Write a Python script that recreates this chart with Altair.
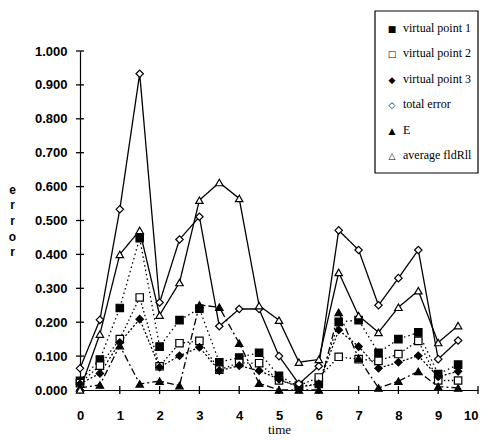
import altair as alt
import pandas as pd

time = [0, 0.5, 1, 1.5, 2, 2.5, 3, 3.5, 4, 4.5, 5, 5.5, 6, 6.5, 7, 7.5, 8, 8.5, 9, 9.5]

vp1 = [0.027, 0.090, 0.242, 0.448, 0.128, 0.206, 0.240, 0.082, 0.096, 0.110,
       0.042, 0.010, 0.018, 0.201, 0.206, 0.110, 0.150, 0.170, 0.047, 0.075]
vp2 = [0.020, 0.072, 0.150, 0.273, 0.070, 0.138, 0.145, 0.060, 0.080, 0.079,
       0.028, 0.013, 0.037, 0.098, 0.091, 0.086, 0.106, 0.145, 0.028, 0.028]
vp3 = [0.018, 0.049, 0.140, 0.209, 0.067, 0.101, 0.126, 0.057, 0.072, 0.057,
       0.032, 0.008, 0.018, 0.177, 0.128, 0.064, 0.082, 0.101, 0.039, 0.055]
total = [0.064, 0.207, 0.533, 0.933, 0.258, 0.444, 0.511, 0.188, 0.239, 0.239,
         0.100, 0.018, 0.070, 0.471, 0.413, 0.250, 0.330, 0.413, 0.091, 0.146]
E = [0.006, 0.015, 0.131, 0.018, 0.026, 0.013, 0.251, 0.244, 0.138, 0.020,
     0.000, 0.000, 0.000, 0.229, 0.094, 0.006, 0.026, 0.055, 0.010, 0.006]
avg = [0.000, 0.165, 0.400, 0.471, 0.221, 0.317, 0.560, 0.612, 0.565, 0.249,
       0.206, 0.082, 0.090, 0.347, 0.219, 0.170, 0.244, 0.293, 0.140, 0.190]

series_names = ["virtual point 1", "virtual point 2", "virtual point 3",
                "total error", "E", "average fldRll"]
series_values = [vp1, vp2, vp3, total, E, avg]
legend_glyphs = ["\u25A0", "\u25A1", "\u25C6", "\u25C7", "\u25B2", "\u25B3"]

shapes = ["square", "square", "diamond", "diamond", "triangle-up", "triangle-up"]
fills = ["black", "white", "black", "white", "black", "white"]
dashes = [[1.5, 3], [1.5, 2.5], [2, 2], [1, 0], [7, 3, 2, 3], [1, 0]]
widths = [1.3, 1.3, 1.3, 1.6, 1.3, 1.6]

x_ticks = [0, 1, 2, 3, 4, 5, 6, 7, 8, 9, 10]
y_ticks = [0.0, 0.1, 0.2, 0.3, 0.4, 0.5, 0.6, 0.7, 0.8, 0.9, 1.0]

rows = []
for name, vals in zip(series_names, series_values):
    for t, v in zip(time, vals):
        rows.append({"time": t, "error": v, "series": name})
df = pd.DataFrame(rows)

xt_df = pd.DataFrame({"time": x_ticks})
yt_df = pd.DataFrame({"error": y_ticks})

W, H = 398, 339

x_scale = alt.Scale(domain=[0, 10], nice=False, zero=False)
y_scale = alt.Scale(domain=[0, 1], nice=False, zero=False)

tick_font = "Liberation Sans"

x_axis = alt.Axis(values=x_ticks, format="d", title="time", grid=False,
                  ticks=False, labelPadding=19, labelOverlap=False,
                  labelFlush=False,
                  labelAlign=alt.ExprRef(expr="datum.value == 10 ? 'right' : 'center'"),
                  titleBaseline="alphabetic", titleY=43)
y_axis = alt.Axis(values=y_ticks, format=".3f", title=["e", "r", "r", "o", "r"],
                  titleAngle=0, grid=False, ticks=False, labelPadding=13,
                  labelOverlap=False, labelFlush=False,
                  titleFont=tick_font, titleFontSize=12, titleFontWeight="bold",
                  titleAlign="center", titleBaseline="top", titleX=-68,
                  titleY=133, titleLineHeight=15.7)

X = alt.X("time:Q", scale=x_scale, axis=x_axis)
Y = alt.Y("error:Q", scale=y_scale, axis=y_axis)

lines = alt.Chart(df).mark_line(color="black").encode(
    x=X, y=Y,
    detail="series:N",
    strokeDash=alt.StrokeDash("series:N", scale=alt.Scale(domain=series_names, range=dashes), legend=None),
    strokeWidth=alt.StrokeWidth("series:N", scale=alt.Scale(domain=series_names, range=widths), legend=None),
)

points = alt.Chart(df).mark_point(size=55, stroke="black", strokeWidth=1.2, opacity=1).encode(
    x=X, y=Y,
    shape=alt.Shape("series:N", scale=alt.Scale(domain=series_names, range=shapes), legend=None),
    fill=alt.Fill("series:N", scale=alt.Scale(domain=series_names, range=fills), legend=None),
)

xticks_layer = alt.Chart(xt_df).mark_rule(color="black", strokeWidth=1.3).encode(
    x=X,
    y=alt.value(H - 4), y2=alt.value(H + 4),
)
yticks_layer = alt.Chart(yt_df).mark_rule(color="black", strokeWidth=1.3).encode(
    y=Y,
    x=alt.value(-4), x2=alt.value(4),
)

one_row = "datum.series == 'E' && datum.time == 0"

legend_box = alt.Chart(df).transform_filter(one_row).mark_rect(
    fill="white", stroke="black", strokeWidth=1.2
).encode(
    x=alt.value(295), x2=alt.value(398), y=alt.value(-40), y2=alt.value(122)
)
legend_symbols = alt.Chart(df).transform_filter(one_row).mark_text(
    font="DejaVu Sans", fontSize=9, align="center", baseline="top",
    lineHeight=25.4, color="black"
).encode(
    x=alt.value(312), y=alt.value(-26), text=alt.value(legend_glyphs)
)
legend_labels = alt.Chart(df).transform_filter(one_row).mark_text(
    font="Liberation Serif", fontSize=12, align="left", baseline="top",
    lineHeight=25.4, color="black"
).encode(
    x=alt.value(323), y=alt.value(-28), text=alt.value(series_names)
)

chart = alt.layer(lines, xticks_layer, yticks_layer, points,
                  legend_box, legend_symbols, legend_labels).properties(
    width=W, height=H,
    padding={"left": 0, "top": 2, "right": 0, "bottom": 0},
).configure_view(stroke=None).configure_axis(
    domainColor="black", domainWidth=1.2,
    labelFont=tick_font, labelFontSize=13, labelFontWeight="bold",
    labelColor="black", titleColor="black",
).configure_axisX(
    titleFont="Liberation Serif", titleFontSize=13, titleFontWeight="normal",
)

chart.save("out.html", embed_options={"renderer": "svg", "actions": False})
